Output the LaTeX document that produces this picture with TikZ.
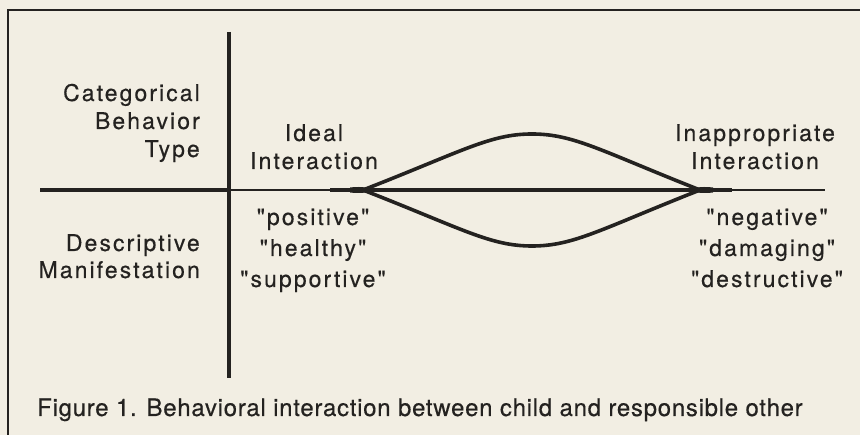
\documentclass[tikz,border=0pt]{standalone}
\usepackage{fontspec}
\setmainfont{TeX Gyre Heros}
\newfontfamily\labfont{TeX Gyre Heros}[LetterSpace=9,FakeBold=0.4]
\newfontfamily\capfont{TeX Gyre Heros}[LetterSpace=3,FakeBold=0.4]
\definecolor{paper}{RGB}{242,238,227}
\definecolor{ink}{RGB}{36,34,32}
\begin{document}
\begin{tikzpicture}[x=1pt,y=-1pt,
  lab/.style={font=\labfont\fontsize{23}{27}\selectfont, text=ink, inner sep=0pt},
  captext/.style={font=\capfont\fontsize{24}{28}\selectfont, text=ink, inner sep=0pt},
  frame/.style={draw=ink, line width=2pt},
  thickaxis/.style={draw=ink, line width=4.5pt},
  thinaxis/.style={draw=ink, line width=1.3pt},
  lens/.style={draw=ink, line width=3.6pt, line cap=round}]
\useasboundingbox[fill=paper] (0,0) rectangle (860,435);
% frame
\coordinate (fTR) at (862,10);
\coordinate (fTL) at (8,10);
\coordinate (fBL) at (8,437);
\draw[frame] (fTR) -- (fTL) -- (fBL);
% axes
\coordinate (hA) at (40,190);
\coordinate (hB) at (229,190);
\coordinate (hC) at (330,190);
\coordinate (hD) at (732,190);
\coordinate (hE) at (825,190);
\coordinate (vT) at (229,32);
\coordinate (vB) at (229,378);
\draw[thickaxis] (hA) -- (hB);
\draw[thinaxis] (hB) -- (hC);
\draw[thickaxis] (hC) -- (hD);
\draw[thinaxis] (hD) -- (hE);
\draw[draw=ink, line width=3.6pt] (vT) -- (vB);
% lens
\coordinate (lensL) at (363,190);
\coordinate (lensR) at (700,190);
\coordinate (lensTop) at (532,134);
\coordinate (lensBot) at (532,246);
\draw[lens] (lensL) .. controls (463,151) and (490,134) .. (lensTop)
  .. controls (574,134) and (601,151) .. (lensR);
\draw[lens] (lensL) .. controls (463,229) and (490,246) .. (lensBot)
  .. controls (574,246) and (601,229) .. (lensR);
% junction thickening
\fill[ink] (350,187.5) .. controls (358,186.6) and (366,186.6) .. (376,190)
  .. controls (366,193.4) and (358,193.4) .. (350,192.5) -- cycle;
\fill[ink] (713,187.5) .. controls (705,186.6) and (697,186.6) .. (687,190)
  .. controls (697,193.4) and (705,193.4) .. (713,192.5) -- cycle;
% left labels
\node[lab, anchor=base east] (cat1) at (200,101) {Categorical};
\node[lab, anchor=base east] (cat2) at (200,129) {Behavior};
\node[lab, anchor=base east] (cat3) at (200,157) {Type};
\node[lab, anchor=base east] (des1) at (200,251) {Descriptive};
\node[lab, anchor=base east] (des2) at (200,278) {Manifestation};
% column labels
\node[lab, anchor=base] (ideal1) at (314,141) {Ideal};
\node[lab, anchor=base] (ideal2) at (314,169) {Interaction};
\node[lab, anchor=base] (inap1) at (755,141) {Inappropriate};
\node[lab, anchor=base] (inap2) at (755,169) {Interaction};
\node[lab, anchor=base] (pos1) at (313,225) {"positive"};
\node[lab, anchor=base] (pos2) at (313,256) {"healthy"};
\node[lab, anchor=base] (pos3) at (313,287) {"supportive"};
\node[lab, anchor=base] (neg1) at (767,225) {"negative"};
\node[lab, anchor=base] (neg2) at (767,256) {"damaging"};
\node[lab, anchor=base] (neg3) at (767,287) {"destructive"};
% caption
\node[captext, anchor=base west] (fig) at (37,416) {Figure 1. Behavioral interaction between child and responsible other};
\end{tikzpicture}
\end{document}
